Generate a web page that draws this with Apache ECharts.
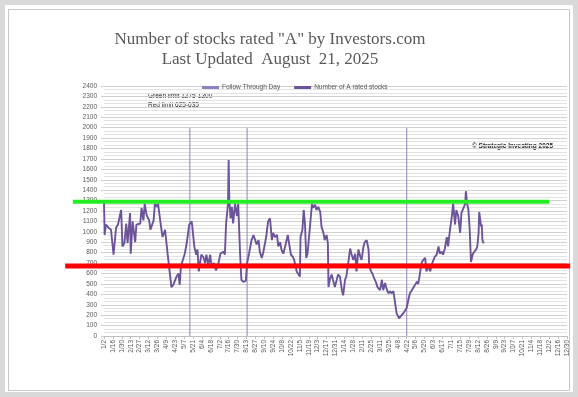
<!DOCTYPE html>
<html>
<head>
<meta charset="utf-8">
<script src="https://cdn.jsdelivr.net/npm/echarts@6/dist/echarts.min.js"></script>
<style>
  html, body { margin: 0; padding: 0; background: #fff; }
  #main { width: 578px; height: 397px; }
</style>
</head>
<body>
<div id="main"></div>
<script>
// x axis: days counted from 1/2/2024, ticks every 14 days
const tickLabels = ['1/2', '1/16', '1/30', '2/13', '2/27', '3/12', '3/26', '4/9', '4/23', '5/7', '5/21', '6/4', '6/18',
  '7/2', '7/16', '7/30', '8/13', '8/27', '9/10', '9/24', '10/8', '10/22', '11/5', '11/19', '12/3', '12/17', '12/31',
  '1/14', '1/28', '2/11', '2/25', '3/11', '3/25', '4/8', '4/22', '5/6', '5/20', '6/3', '6/17', '7/1', '7/15', '7/29',
  '8/12', '8/26', '9/9', '9/23', '10/7', '10/21', '11/4', '11/18', '12/2', '12/16', '12/30'];

// number of A rated stocks (day offset, count)
const days = [0, 1, 3, 7, 11, 15, 19, 22, 27, 29, 32, 35, 37, 41, 42, 45, 49, 51, 57, 59, 62, 64, 67, 71, 73, 78, 80, 83, 85,
  89, 92, 96, 100, 103, 106, 109, 114, 117, 119, 121, 127, 130, 133, 134, 138, 140, 142, 145, 147, 149, 153, 156, 159,
  161, 164, 167, 169, 173, 176, 180, 183, 188, 190, 192, 195, 196, 197, 199, 201, 203, 206, 209, 211, 214, 216, 219,
  223, 225, 228, 232, 235, 237, 240, 243, 245, 248, 250, 255, 258, 261, 264, 266, 269, 272, 274, 277, 279, 282, 286,
  289, 291, 294, 297, 299, 303, 306, 308, 309, 312, 314, 316, 318, 320, 323, 327, 329, 332, 334, 337, 340, 342, 345,
  347, 350, 352, 353, 355, 358, 360, 363, 366, 368, 371, 374, 376, 379, 381, 384, 387, 389, 392, 395, 397, 400, 403,
  405, 408, 410, 413, 416, 417, 420, 422, 425, 428, 430, 434, 437, 439, 442, 444, 447, 450, 452, 455, 457, 460, 464,
  468, 472, 476, 479, 481, 484, 487, 489, 492, 494, 496, 498, 500, 502, 505, 507, 510, 513, 515, 518, 520, 523, 526,
  528, 531, 533, 536, 539, 541, 544, 547, 549, 552, 554, 557, 560, 562, 565, 568, 569, 571, 573, 575, 577, 580, 582,
  585, 587, 589, 590, 593, 594, 595, 597];
const counts = [1290, 970, 1070, 1040, 1020, 780, 1040, 1070, 1210, 860, 890, 1080, 890, 1180, 790, 1100, 900, 1070, 1080,
  1230, 1110, 1270, 1160, 1110, 1020, 1110, 1270, 1240, 1270, 1080, 950, 1020, 790, 630, 470, 490, 570, 600, 490, 670,
  790, 890, 890, 1070, 1100, 1100, 860, 780, 830, 620, 780, 760, 700, 780, 680, 780, 670, 700, 630, 700, 790, 810, 780,
  1080, 1270, 1690, 1310, 1130, 1240, 1080, 1270, 1150, 1270, 790, 540, 520, 530, 700, 790, 920, 970, 960, 880, 920,
  810, 750, 790, 950, 1100, 1130, 920, 990, 950, 970, 860, 900, 830, 790, 890, 970, 890, 780, 760, 730, 620, 590, 570,
  950, 1020, 1210, 1080, 750, 790, 990, 1270, 1230, 1260, 1210, 1240, 1190, 1050, 990, 920, 970, 890, 470, 540, 590,
  540, 470, 540, 590, 570, 440, 390, 540, 570, 700, 840, 790, 730, 790, 620, 830, 760, 730, 860, 900, 920, 830, 670,
  620, 600, 550, 510, 470, 440, 540, 440, 510, 460, 410, 430, 410, 430, 350, 220, 170, 200, 230, 270, 360, 410, 440,
  470, 460, 520, 500, 570, 650, 710, 730, 750, 620, 670, 620, 680, 670, 760, 780, 860, 790, 810, 780, 840, 950, 860,
  1020, 1150, 1270, 1070, 1210, 1150, 990, 1180, 1190, 1270, 1390, 1270, 1210, 1020, 710, 790, 780, 830, 860, 990,
  1190, 1050, 1070, 920, 890];

// follow through days (day offset) drawn as columns of height 2000
const ftdDays = [135, 225, 476];
const ftdHeight = 2000;

// hand drawn limit bars: [from day, to day, level]
const greenBar = [-49, 700, 1290];
const redBar = [-61, 733, 672];

const lineData = days.map((d, i) => [d, counts[i]]);
const ftdData = ftdDays.map(d => [d, ftdHeight]);

const chart = echarts.init(document.getElementById('main'));

const smallText = { fontSize: 6.5, fontFamily: 'Liberation Sans', fill: '#262626', verticalAlign: 'middle' };

const baseGraphic = [
  { type: 'rect', z: -20, silent: true, shape: { x: 5, y: 5, width: 568, height: 387 }, style: { fill: '#ffffff' } },
  { type: 'rect', z: -19, silent: true, shape: { x: 8.5, y: 9.5, width: 561, height: 381 },
    style: { fill: 'none', stroke: '#c8c8c8', lineWidth: 1 } },
  { type: 'text', x: 270, y: 40, style: { text: 'Number of stocks rated "A" by Investors.com', align: 'center',
    verticalAlign: 'middle', fontSize: 17, fontFamily: 'Liberation Serif', fill: '#595959' } },
  { type: 'text', x: 270, y: 60, style: { text: 'Last Updated  August  21, 2025', align: 'center',
    verticalAlign: 'middle', fontSize: 17, fontFamily: 'Liberation Serif', fill: '#595959' } },
  { type: 'text', x: 148, y: 96, style: Object.assign({ text: 'Green limit 1275-1300' }, smallText) },
  { type: 'text', x: 148, y: 105, style: Object.assign({ text: 'Red limit 625-635' }, smallText) },
  { type: 'text', x: 472, y: 146, style: Object.assign({ text: '\u00a9 Strategic Investing 2025' }, smallText,
    { fontWeight: 'bold' }) }
];

const option = {
  animation: false,
  backgroundColor: '#d9d9d9',
  graphic: baseGraphic,
  legend: {
    left: 197,
    top: 79,
    itemWidth: 17,
    itemHeight: 3,
    itemGap: 14,
    icon: 'rect',
    textStyle: { fontSize: 6.5, color: '#595959', fontFamily: 'Liberation Sans', padding: [0, 0, 0, -2] },
    data: ['Follow Through Day', 'Number of A rated stocks']
  },
  grid: {
    left: 104,
    right: 11,
    top: 86,
    bottom: 61
  },
  xAxis: {
    type: 'value',
    min: 0,
    max: 728,
    interval: 14,
    axisLine: { lineStyle: { color: '#bfbfbf' } },
    axisTick: { length: 3, lineStyle: { color: '#bfbfbf' } },
    splitLine: { show: false },
    axisLabel: {
      rotate: 90,
      fontSize: 6.5,
      color: '#595959',
      fontFamily: 'Liberation Sans',
      margin: 4,
      showMinLabel: true,
      showMaxLabel: true,
      formatter: v => tickLabels[Math.round(v / 14)] || ''
    }
  },
  yAxis: {
    type: 'value',
    min: 0,
    max: 2400,
    interval: 100,
    axisLine: { show: false },
    axisTick: { show: true, length: 3, lineStyle: { color: '#d0d0d0' } },
    minorTick: { show: false, splitNumber: 3 },
    splitLine: { lineStyle: { color: '#d0d0d0' } },
    minorSplitLine: { show: true, lineStyle: { color: '#e2e2e2' } },
    axisLabel: { fontSize: 6.5, color: '#595959', fontFamily: 'Liberation Sans', margin: 7, formatter: v => String(v) }
  },
  series: [
    {
      name: 'Follow Through Day',
      type: 'bar',
      barWidth: 1,
      itemStyle: { color: '#8f80c2' },
      data: ftdData
    },
    {
      name: 'Number of A rated stocks',
      type: 'line',
      showSymbol: false,
      lineStyle: { width: 1.9, color: '#6b5499' },
      itemStyle: { color: '#6b5499' },
      data: lineData
    }
  ]
};

chart.setOption(option);

// limit bars placed through the grid's own scales
function limitBar(bar, color, width) {
  const p0 = chart.convertToPixel({ gridIndex: 0 }, [bar[0], bar[2]]);
  const p1 = chart.convertToPixel({ gridIndex: 0 }, [bar[1], bar[2]]);
  return { type: 'line', z: 50, silent: true, shape: { x1: p0[0], y1: p0[1], x2: p1[0], y2: p1[1] },
    style: { stroke: color, lineWidth: width } };
}

chart.setOption({
  graphic: baseGraphic.concat([
    limitBar(greenBar, '#22ee22', 4),
    limitBar(redBar, '#ff0000', 5)
  ])
});
</script>
</body>
</html>
